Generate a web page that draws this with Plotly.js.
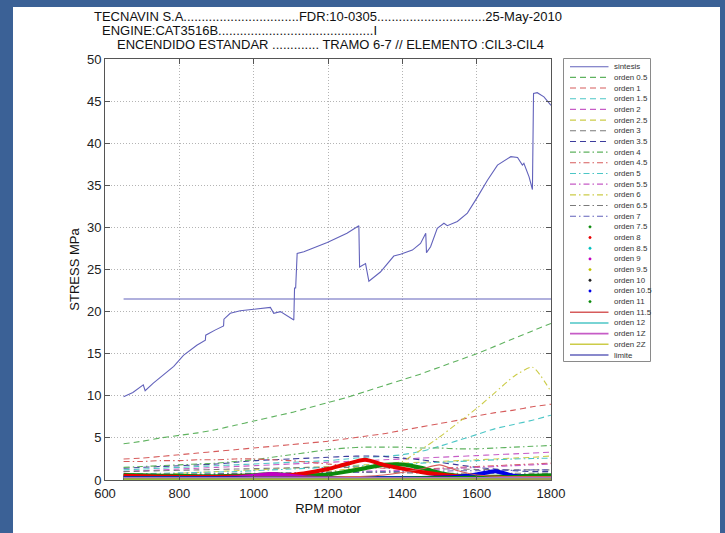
<!DOCTYPE html>
<html>
<head>
<meta charset="utf-8">
<script src="https://cdn.plot.ly/plotly-3.0.1.min.js"></script>
<style>
  html, body { margin: 0; padding: 0; background: #3b6196; width: 725px; height: 533px; overflow: hidden; }
  #chart { position: absolute; left: 13px; top: 7px; width: 707px; height: 526px; background: #ffffff; }
</style>
</head>
<body>
<div id="chart"></div>
<script>
// ---------------- DATA ----------------
const titleLines = [
  "TECNAVIN S.A................................FDR:10-0305..............................25-May-2010",
  "ENGINE:CAT3516B...........................................I",
  "ENCENDIDO ESTANDAR ............. TRAMO 6-7 // ELEMENTO :CIL3-CIL4"
];
const xTitle = "RPM motor";
const yTitle = "STRESS MPa";
const xTicks = [600, 800, 1000, 1200, 1400, 1600, 1800];
const yTicks = [0, 5, 10, 15, 20, 25, 30, 35, 40, 45, 50];

const sintesisRpm = [650, 675, 703, 708, 730, 757, 785, 811, 830, 847, 870, 871, 896, 919, 920, 937, 964, 1009, 1045, 1054, 1072, 1108, 1110, 1113, 1117, 1135, 1198, 1251, 1283, 1285, 1301, 1310, 1341, 1377, 1395, 1427, 1449, 1463, 1465, 1476, 1494, 1512, 1521, 1548, 1575, 1602, 1629, 1656, 1692, 1710, 1723, 1727, 1741, 1750, 1753, 1763, 1781, 1800];
const sintesisStress = [9.9, 10.4, 11.3, 10.6, 11.5, 12.5, 13.5, 14.8, 15.4, 16.0, 16.6, 17.2, 17.8, 18.3, 19.1, 19.8, 20.1, 20.3, 20.5, 19.8, 20.0, 19.0, 22.8, 22.8, 26.9, 27.1, 28.2, 29.3, 30.2, 25.3, 25.7, 23.6, 24.7, 26.6, 26.8, 27.3, 28.1, 29.3, 27.0, 27.7, 29.9, 30.5, 30.2, 30.7, 31.7, 33.6, 35.6, 37.4, 38.4, 38.3, 37.4, 37.6, 36.0, 34.5, 45.9, 46.0, 45.5, 44.5];

const limiteRpm = [650, 1800];
const limiteStress = [21.5, 21.5];

// common rpm grid for the order curves
const rpm = [650, 700, 750, 800, 850, 900, 950, 1000, 1050, 1100, 1150, 1200, 1250, 1300, 1350, 1400, 1450, 1500, 1550, 1600, 1650, 1700, 1750, 1800];

const orden0_5 = [4.3, 4.6, 5.0, 5.3, 5.6, 6.0, 6.5, 7.0, 7.5, 8.0, 8.6, 9.2, 9.8, 10.5, 11.2, 11.9, 12.6, 13.4, 14.2, 15.0, 15.9, 16.8, 17.7, 18.6];
const orden1   = [2.5, 2.6, 2.8, 3.0, 3.2, 3.4, 3.6, 3.8, 4.0, 4.2, 4.4, 4.6, 4.9, 5.2, 5.5, 5.9, 6.3, 6.7, 7.1, 7.6, 8.0, 8.3, 8.7, 9.0];
const orden1_5 = [1.2, 1.3, 1.4, 1.5, 1.6, 1.7, 1.8, 1.9, 2.0, 2.1, 2.2, 2.3, 2.5, 2.7, 2.8, 3.0, 3.4, 4.0, 4.7, 5.4, 6.1, 6.6, 7.1, 7.7];
const orden2   = [1.0, 1.1, 1.2, 1.3, 1.4, 1.5, 1.6, 1.7, 1.8, 1.9, 2.0, 2.1, 2.2, 2.3, 2.4, 2.5, 2.6, 2.7, 2.8, 2.9, 3.0, 3.1, 3.2, 3.3];
const orden2_5 = [0.5, 0.6, 0.7, 0.8, 0.9, 1.0, 1.1, 1.2, 1.3, 1.4, 1.5, 1.6, 1.7, 1.8, 1.9, 2.0, 2.1, 2.2, 2.3, 2.4, 2.5, 2.6, 2.7, 2.85];
const orden3   = [1.0, 1.05, 1.1, 1.15, 1.2, 1.25, 1.3, 1.35, 1.4, 1.45, 1.5, 1.5, 1.5, 1.5, 1.45, 1.4, 1.35, 1.3, 1.3, 1.25, 1.25, 1.2, 1.2, 1.2];
const orden3_5 = [1.4, 1.5, 1.6, 1.7, 1.8, 1.9, 2.1, 2.3, 2.4, 2.5, 2.6, 2.7, 2.8, 2.85, 2.8, 2.6, 2.4, 2.1, 1.8, 1.5, 1.3, 1.1, 1.0, 1.0];
const orden4   = [1.5, 1.6, 1.7, 1.8, 1.9, 2.0, 2.2, 2.4, 2.7, 3.0, 3.3, 3.6, 3.8, 3.9, 3.9, 3.9, 3.8, 3.8, 3.7, 3.7, 3.8, 3.9, 4.0, 4.1];
const orden4_5 = [2.2, 2.2, 2.3, 2.3, 2.4, 2.4, 2.5, 2.5, 2.4, 2.3, 2.1, 1.9, 1.7, 1.5, 1.4, 1.3, 1.3, 1.4, 1.5, 1.6, 1.7, 1.8, 1.9, 2.0];
const orden5   = [0.7, 0.75, 0.8, 0.85, 0.9, 0.95, 1.0, 1.1, 1.2, 1.3, 1.4, 1.5, 1.6, 1.7, 1.8, 1.9, 2.0, 2.1, 2.2, 2.3, 2.4, 2.5, 2.55, 2.6];
const orden5_5 = [0.4, 0.45, 0.5, 0.55, 0.6, 0.65, 0.7, 0.75, 0.8, 0.85, 0.9, 0.95, 1.0, 1.05, 1.1, 1.15, 1.2, 1.3, 1.4, 1.5, 1.6, 1.7, 1.8, 1.9];
const orden6   = [0.2, 0.2, 0.3, 0.3, 0.35, 0.4, 0.45, 0.5, 0.6, 0.7, 0.8, 1.0, 1.3, 1.6, 1.9, 2.2, 3.6, 5.1, 6.8, 8.5, 10.4, 12.3, 13.4, 10.5];
const orden6_5 = [0.6, 0.65, 0.7, 0.7, 0.75, 0.75, 0.8, 0.8, 0.8, 0.85, 0.85, 0.9, 0.9, 0.9, 0.9, 0.85, 0.85, 0.8, 0.8, 0.8, 0.8, 0.8, 0.8, 0.8];
const orden7   = [0.5, 0.55, 0.6, 0.6, 0.65, 0.7, 0.7, 0.75, 0.8, 0.8, 0.85, 0.9, 0.9, 0.95, 1.0, 1.0, 1.0, 1.05, 1.1, 1.1, 1.15, 1.15, 1.2, 1.2];
const orden7_5 = [0.6, 0.55, 0.5, 0.5, 0.45, 0.45, 0.5, 0.55, 0.7, 0.6, 0.55, 0.65, 1.0, 1.4, 1.8, 1.85, 1.45, 0.85, 0.5, 0.4, 0.4, 0.45, 0.5, 0.55];
const orden8   = [0.5, 0.45, 0.4, 0.35, 0.35, 0.35, 0.4, 0.45, 0.5, 0.6, 0.9, 1.3, 1.9, 2.4, 1.8, 1.35, 0.95, 0.65, 0.45, 0.35, 0.3, 0.3, 0.3, 0.3];
const orden8_5 = [0.2, 0.2, 0.2, 0.2, 0.2, 0.2, 0.25, 0.25, 0.25, 0.25, 0.25, 0.25, 0.25, 0.25, 0.25, 0.25, 0.2, 0.2, 0.2, 0.2, 0.2, 0.2, 0.2, 0.2];
const orden9   = [0.15, 0.15, 0.15, 0.15, 0.2, 0.2, 0.3, 0.5, 0.7, 0.5, 0.3, 0.2, 0.15, 0.15, 0.15, 0.15, 0.15, 0.15, 0.15, 0.15, 0.15, 0.15, 0.15, 0.15];
const orden9_5 = [0.1, 0.1, 0.1, 0.1, 0.1, 0.1, 0.1, 0.1, 0.1, 0.1, 0.1, 0.1, 0.1, 0.1, 0.1, 0.1, 0.1, 0.1, 0.1, 0.1, 0.1, 0.1, 0.1, 0.1];
const orden10  = [0.12, 0.12, 0.12, 0.12, 0.12, 0.12, 0.12, 0.12, 0.12, 0.12, 0.12, 0.12, 0.12, 0.12, 0.12, 0.12, 0.12, 0.12, 0.12, 0.12, 0.12, 0.12, 0.12, 0.12];
const orden10_5 = [0.2, 0.2, 0.2, 0.2, 0.2, 0.2, 0.2, 0.2, 0.2, 0.2, 0.2, 0.2, 0.2, 0.2, 0.2, 0.2, 0.25, 0.3, 0.4, 0.65, 1.05, 0.5, 0.3, 0.3];
const orden11  = [0.15, 0.15, 0.15, 0.15, 0.15, 0.15, 0.15, 0.15, 0.15, 0.15, 0.15, 0.15, 0.15, 0.15, 0.15, 0.15, 0.2, 0.2, 0.25, 0.3, 0.3, 0.35, 0.35, 0.35];
const orden11_5 = [0.3, 0.3, 0.3, 0.3, 0.3, 0.3, 0.3, 0.35, 0.35, 0.35, 0.35, 0.35, 0.4, 0.45, 0.6, 0.9, 1.3, 1.8, 1.1, 0.6, 0.45, 0.4, 0.4, 0.4];
const orden12  = [0.3, 0.3, 0.3, 0.3, 0.3, 0.3, 0.3, 0.3, 0.3, 0.3, 0.3, 0.3, 0.3, 0.3, 0.3, 0.3, 0.3, 0.3, 0.3, 0.3, 0.3, 0.3, 0.3, 0.3];
const orden1Z  = [0.25, 0.25, 0.25, 0.25, 0.25, 0.25, 0.25, 0.25, 0.25, 0.25, 0.25, 0.25, 0.25, 0.25, 0.25, 0.25, 0.25, 0.25, 0.25, 0.25, 0.25, 0.25, 0.25, 0.25];
const orden2Z  = [0.1, 0.1, 0.1, 0.1, 0.1, 0.1, 0.1, 0.1, 0.1, 0.1, 0.1, 0.1, 0.1, 0.1, 0.1, 0.1, 0.1, 0.1, 0.1, 0.1, 0.1, 0.1, 0.1, 0.1];

const seriesNames = ["sintesis", "orden 0.5", "orden 1", "orden 1.5", "orden 2", "orden 2.5", "orden 3", "orden 3.5",
  "orden 4", "orden 4.5", "orden 5", "orden 5.5", "orden 6", "orden 6.5", "orden 7", "orden 7.5", "orden 8",
  "orden 8.5", "orden 9", "orden 9.5", "orden 10", "orden 10.5", "orden 11", "orden 11.5", "orden 12",
  "orden 1Z", "orden 2Z", "limite"];

// ---------------- STYLES ----------------
const C = { b: "#6262bb", g: "#5fb25f", r: "#d65c5c", c: "#4cc6c6", m: "#c65cc6", y: "#cccc48", k: "#7a7a7a", nb: "#3c3c9c" };
const CD = { g: "#0b8a0b", r: "#e80000", c: "#00c0c0", m: "#c000c0", y: "#c0c000", k: "#202020", b: "#0000e8" };
const DASH = "6px,4px";
const DASHDOT = "6px,3px,1.5px,3px";

const seriesData = [
  [sintesisRpm, sintesisStress], [rpm, orden0_5], [rpm, orden1], [rpm, orden1_5], [rpm, orden2], [rpm, orden2_5],
  [rpm, orden3], [rpm, orden3_5], [rpm, orden4], [rpm, orden4_5], [rpm, orden5], [rpm, orden5_5], [rpm, orden6],
  [rpm, orden6_5], [rpm, orden7], [rpm, orden7_5], [rpm, orden8], [rpm, orden8_5], [rpm, orden9], [rpm, orden9_5],
  [rpm, orden10], [rpm, orden10_5], [rpm, orden11], [rpm, orden11_5], [rpm, orden12], [rpm, orden1Z], [rpm, orden2Z],
  [limiteRpm, limiteStress]
];
const seriesStyle = [
  { kind: "line", color: C.b, dash: "solid" },
  { kind: "line", color: C.g, dash: DASH }, { kind: "line", color: C.r, dash: DASH }, { kind: "line", color: C.c, dash: DASH },
  { kind: "line", color: C.m, dash: DASH }, { kind: "line", color: C.y, dash: DASH }, { kind: "line", color: C.k, dash: DASH },
  { kind: "line", color: C.nb, dash: DASH },
  { kind: "line", color: C.g, dash: DASHDOT }, { kind: "line", color: C.r, dash: DASHDOT }, { kind: "line", color: C.c, dash: DASHDOT },
  { kind: "line", color: C.m, dash: DASHDOT }, { kind: "line", color: C.y, dash: DASHDOT }, { kind: "line", color: C.k, dash: DASHDOT },
  { kind: "line", color: C.b, dash: DASHDOT },
  { kind: "dots", color: CD.g }, { kind: "dots", color: CD.r }, { kind: "dots", color: CD.c }, { kind: "dots", color: CD.m },
  { kind: "dots", color: CD.y }, { kind: "dots", color: CD.k }, { kind: "dots", color: CD.b }, { kind: "dots", color: CD.g },
  { kind: "line", color: C.r, dash: "solid" }, { kind: "line", color: C.c, dash: "solid" }, { kind: "line", color: C.m, dash: "solid" },
  { kind: "line", color: C.y, dash: "solid" }, { kind: "line", color: C.b, dash: "solid" }
];

const FONT = "'Liberation Sans', Arial, Helvetica, sans-serif";

// ---------------- TRACES ----------------
const traces = seriesNames.map(function (name, i) {
  const st = seriesStyle[i];
  const d = seriesData[i];
  if (st.kind === "dots") {
    return { type: "scatter", mode: "lines", name: name, x: d[0], y: d[1], showlegend: false,
      line: { color: st.color, width: 4, shape: "spline", smoothing: 0.6 }, hoverinfo: "x+y+name" };
  }
  return { type: "scatter", mode: "lines", name: name, x: d[0], y: d[1], showlegend: false,
    line: { color: st.color, width: 1.1, dash: st.dash, shape: i === 0 || i === seriesNames.length - 1 ? "linear" : "spline", smoothing: 0.6 },
    hoverinfo: "x+y+name" };
});

// ---------------- PAGE -> PAPER helpers (plot area 105..551 x 59..480 in page px) ----------------
const PX0 = 105, PW = 446, PY1 = 480, PH = 421;
function px(x) { return (x - PX0) / PW; }
function py(y) { return (PY1 - y) / PH; }

const shapes = [];
const annotations = [];

// title lines
const titleX = [91.5, 100, 115];
const titleY = [16, 30.5, 45];
titleLines.forEach(function (t, i) {
  annotations.push({ xref: "paper", yref: "paper", x: px(titleX[i]), y: py(titleY[i]), xanchor: "left", yanchor: "middle",
    text: t, showarrow: false, font: { family: FONT, size: 13, color: "#111" } });
});

// manual legend box
shapes.push({ type: "rect", xref: "paper", yref: "paper", x0: px(563.5), x1: px(650.5), y0: py(58.5), y1: py(361.5),
  line: { color: "#8a8a8a", width: 1 }, fillcolor: "#ffffff", layer: "above" });
const legStep = (355 - 66.7) / (seriesNames.length - 1);
seriesNames.forEach(function (name, i) {
  const st = seriesStyle[i];
  const yy = 66.7 + i * legStep;
  if (st.kind === "dots") {
    shapes.push({ type: "circle", xref: "paper", yref: "paper", x0: px(588.8), x1: px(591.2), y0: py(yy + 1.2), y1: py(yy - 1.2),
      fillcolor: st.color, line: { color: st.color, width: 0.5 }, layer: "above" });
  } else {
    shapes.push({ type: "line", xref: "paper", yref: "paper", x0: px(570), x1: px(608.5), y0: py(yy), y1: py(yy),
      line: { color: st.color, width: (i >= 23 ? 1.6 : 1.1), dash: st.dash }, layer: "above" });
  }
  annotations.push({ xref: "paper", yref: "paper", x: px(611.5), y: py(yy), xanchor: "left", yanchor: "middle",
    text: name, showarrow: false, font: { family: FONT, size: 7.9, color: "#333" } });
});

const axisCommon = {
  showline: true, linecolor: "#555555", linewidth: 1, mirror: "allticks",
  ticks: "inside", ticklen: 5, tickcolor: "#555555", tickwidth: 1,
  showgrid: true, gridcolor: "#b4b4b4", gridwidth: 1, griddash: "1px,2px",
  zeroline: false, tickfont: { family: FONT, size: 13, color: "#222" }, tickmode: "array"
};

const layout = {
  width: 707, height: 526,
  margin: { l: 92, r: 169, t: 52, b: 53, pad: 0 },
  paper_bgcolor: "#ffffff", plot_bgcolor: "#ffffff",
  showlegend: false,
  xaxis: Object.assign({}, axisCommon, { range: [600, 1800], tickvals: xTicks, ticktext: xTicks.map(String), ticklabelstandoff: 1,
    title: { text: xTitle, font: { family: FONT, size: 13, color: "#111" }, standoff: 4 } }),
  yaxis: Object.assign({}, axisCommon, { range: [0, 50], tickvals: yTicks, ticktext: yTicks.map(String),
    title: { text: yTitle, font: { family: FONT, size: 13, color: "#111" }, standoff: 4 } }),
  shapes: shapes,
  annotations: annotations,
  font: { family: FONT }
};

Plotly.newPlot("chart", traces, layout, { displayModeBar: false, staticPlot: true });
</script>
</body>
</html>
